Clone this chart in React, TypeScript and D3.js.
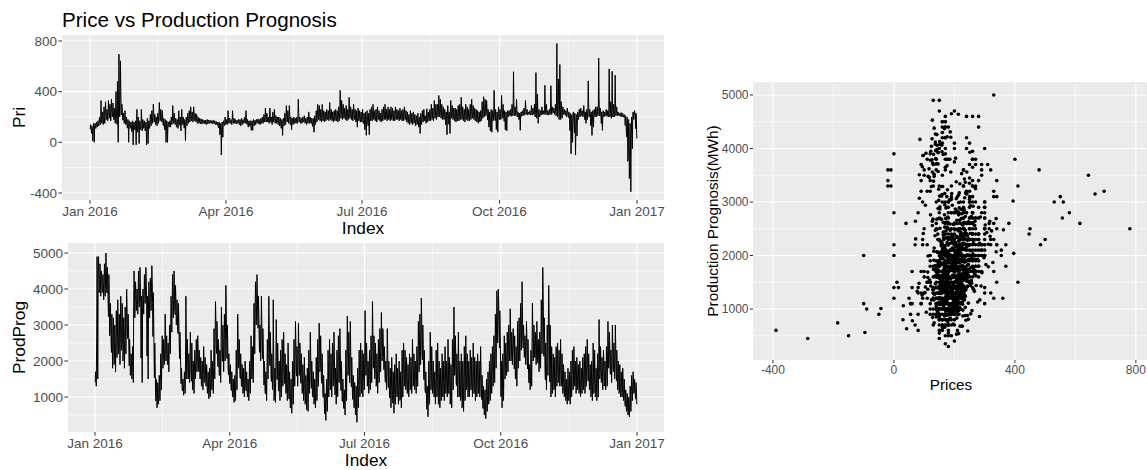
import React from "react";
import * as d3 from "d3";

// Spot price, four readings per day (2016-01-01 .. 2016-12-31): daily high, upper-mid, lower-mid, low
const priceHigh = [
  140,130,150,150,160,170,200,330,240,280,
  320,260,330,300,340,310,270,400,480,695,
  643,300,230,250,200,180,170,160,170,160,
  170,260,200,170,260,180,170,160,190,170,
  220,250,300,220,200,230,315,260,250,190,
  180,170,160,170,200,290,230,190,180,250,
  200,260,200,180,200,230,250,280,240,280,
  230,220,200,190,185,180,175,175,180,175,
  175,170,175,170,165,160,160,150,160,170,
  200,180,250,190,180,250,190,180,175,180,
  180,190,180,200,250,180,170,170,170,180,
  175,180,185,180,190,200,220,270,230,200,
  270,200,240,260,210,200,200,190,180,190,
  230,290,250,290,200,190,200,190,200,340,
  200,190,200,210,190,200,240,200,190,190,
  210,250,300,290,260,300,250,240,260,250,
  315,260,240,250,260,250,280,410,330,300,
  270,290,260,355,280,260,300,260,250,270,
  250,240,260,230,240,250,230,260,280,300,
  250,260,280,250,230,260,280,300,260,280,
  260,280,270,250,280,260,250,270,250,260,
  280,250,240,220,250,230,240,220,210,230,
  200,230,250,260,210,265,240,260,300,270,
  330,300,300,370,340,300,280,260,240,290,
  240,330,290,270,270,260,290,300,355,280,
  260,300,280,260,300,340,290,270,260,250,
  240,250,320,360,340,330,260,240,260,250,
  410,260,240,280,260,370,300,250,240,250,
  250,260,300,557,280,340,240,230,240,250,
  270,330,260,240,250,290,270,300,550,380,
  260,250,280,250,450,300,250,260,447,280,
  270,300,780,500,615,320,280,260,250,270,
  240,230,220,240,230,220,240,260,270,250,
  290,240,260,485,260,240,250,260,280,280,
  665,270,240,250,240,260,250,580,320,560,
  300,530,280,240,230,235,230,220,210,200,
  180,150,200,240,250,230,
];

const priceUpperMid = [
  118,96,127,133,142,151,167,213,188,204,
  237,214,256,231,262,241,203,268,187,338,
  394,241,193,187,163,146,142,131,128,137,
  126,168,142,143,176,152,138,122,137,148,
  183,206,233,186,171,193,247,214,197,158,
  142,131,146,152,176,218,191,163,153,193,
  163,203,168,146,172,193,212,227,204,228,
  197,188,177,171,167,166,162,158,164,163,
  164,159,163,157,154,146,137,121,133,152,
  174,163,196,172,162,193,171,164,163,162,
  161,168,166,178,194,157,152,148,146,159,
  161,167,168,163,172,178,193,214,197,176,
  213,174,201,207,183,173,168,156,141,163,
  188,226,203,218,162,168,177,172,176,236,
  177,172,182,184,168,176,197,176,164,148,
  178,208,243,233,213,238,207,206,221,212,
  247,216,203,211,218,207,226,284,254,246,
  228,232,221,267,233,217,243,212,193,222,
  207,202,208,178,172,203,168,216,227,243,
  212,213,231,212,197,217,232,242,217,231,
  218,231,223,212,232,221,212,227,211,218,
  232,207,197,181,202,187,196,177,176,178,
  158,186,207,217,182,213,206,217,241,222,
  262,243,253,288,268,242,232,217,182,236,
  183,261,236,222,217,216,232,243,272,226,
  212,243,227,217,242,268,237,222,213,202,
  203,212,258,283,277,266,207,186,193,212,
  286,206,188,232,221,268,247,198,187,227,
  232,236,254,312,247,267,223,206,224,231,
  243,268,238,231,234,253,246,252,317,263,
  233,234,251,236,298,257,233,241,304,256,
  246,256,396,327,338,262,251,238,227,241,
  213,154,146,203,148,167,213,232,241,228,
  252,204,224,312,227,177,203,232,243,246,
  362,237,188,227,226,233,227,318,258,323,
  253,307,246,226,218,219,216,206,172,128,
  61,-43,103,212,226,174,
];

const priceLowerMid = [
  104,71,86,124,137,146,158,186,163,177,
  209,193,228,206,236,217,178,224,142,283,
  302,216,174,166,144,112,127,116,84,121,
  97,132,113,126,138,133,117,94,106,129,
  162,178,197,163,152,174,211,189,171,132,
  97,84,133,139,158,184,167,144,131,168,
  134,176,147,112,153,172,188,201,183,203,
  181,172,164,158,156,157,153,151,155,157,
  157,152,158,149,147,136,113,72,104,142,
  157,152,172,163,153,171,161,156,158,153,
  147,156,159,164,172,141,143,127,124,146,
  152,159,157,154,162,166,178,186,181,163,
  186,158,181,178,166,157,149,137,112,148,
  166,193,178,187,137,156,163,161,164,197,
  164,161,171,167,156,163,174,163,149,124,
  161,186,214,206,188,207,186,189,202,193,
  216,194,183,193,196,186,201,236,219,221,
  206,203,202,229,208,196,214,188,163,198,
  186,183,182,147,128,178,131,194,201,214,
  193,191,207,193,181,196,208,213,196,207,
  196,208,198,193,207,202,192,204,193,196,
  208,186,176,163,178,166,174,156,161,152,
  127,166,186,196,168,188,189,196,213,198,
  229,214,228,246,233,212,208,196,137,211,
  142,228,211,197,191,194,204,213,228,201,
  188,214,201,196,214,231,211,198,189,178,
  182,193,226,244,246,236,176,153,151,193,
  241,172,151,208,202,232,221,167,152,214,
  221,222,233,263,229,234,212,178,214,222,
  229,244,226,226,224,234,233,226,262,214,
  217,225,236,228,257,236,224,231,263,243,
  233,234,291,256,271,228,236,227,214,226,
  196,93,83,176,77,122,197,217,226,214,
  231,178,202,252,208,132,168,216,222,228,
  276,218,148,213,218,219,214,256,226,262,
  228,256,228,217,212,211,208,198,133,42,
  -96,-186,31,196,214,107,
];

const priceLow = [
  90,10,0,110,120,130,140,150,140,150,
  180,170,190,170,200,180,150,180,0,200,
  220,180,150,140,120,0,110,90,-20,100,
  -20,80,-10,100,90,110,90,-20,-10,110,
  130,150,160,140,130,150,170,160,140,100,
  0,0,120,120,140,150,140,120,110,140,
  90,140,120,15,130,150,160,170,160,170,
  160,150,150,145,145,150,145,140,145,150,
  150,145,150,140,140,120,60,-100,40,130,
  140,140,150,150,140,150,150,145,150,140,
  130,140,150,150,150,120,130,95,95,130,
  140,150,145,140,150,150,160,160,160,150,
  160,140,160,150,150,140,130,110,55,130,
  140,160,150,150,100,140,150,150,150,160,
  150,150,160,150,140,150,150,150,130,80,
  140,160,180,170,160,170,160,170,180,170,
  180,170,160,170,170,160,170,190,180,190,
  180,170,180,190,180,170,180,160,120,170,
  160,160,150,100,55,150,60,170,170,180,
  170,160,180,170,160,170,180,180,170,180,
  170,180,170,170,180,180,170,180,170,170,
  180,160,150,140,150,140,150,130,140,120,
  70,140,160,170,150,160,170,170,180,170,
  190,180,200,200,190,180,180,170,60,180,
  70,190,180,170,160,170,170,180,180,170,
  160,180,170,170,180,190,180,170,160,150,
  160,170,190,200,210,200,120,90,80,170,
  190,100,80,180,180,190,190,100,90,200,
  210,205,210,210,210,200,200,95,205,210,
  215,220,215,220,215,215,220,200,190,150,
  200,215,220,220,220,215,215,220,220,230,
  220,210,200,180,180,190,220,215,200,210,
  180,-90,0,150,-100,50,180,200,210,200,
  210,150,180,200,190,55,120,200,200,210,
  210,200,95,200,210,205,200,200,190,200,
  200,210,210,210,205,200,200,190,80,-150,
  -285,-390,-50,180,200,30,
];

// Production prognosis (MWh), same four readings per day
const prodHigh = [
  1700,4900,4900,4700,4500,4400,4700,5000,4600,4400,
  3600,3300,3200,3000,3400,3700,3300,3800,3600,3200,
  3500,4000,3300,2600,2200,2400,4500,4200,4000,4500,
  4600,3800,4000,4400,4600,3800,4200,4300,4650,3900,
  2500,1500,1400,1600,2200,2700,2600,3300,2700,2500,
  3000,3800,4400,4500,4100,3700,3600,2800,1800,1500,
  1700,3800,2600,2200,2800,2500,2000,2300,2600,2700,
  2300,2100,2000,2400,2100,1900,1700,1800,2300,2000,
  2900,3650,3100,2600,2300,3500,3000,3300,4100,3000,
  2200,1900,1700,1500,1600,2300,3300,2600,2200,1900,
  1800,2000,1700,1500,2000,2700,2400,3600,4200,4400,
  3800,3000,3800,2900,2000,1700,2600,3800,2800,2200,
  3700,1800,3150,2500,2000,2300,2600,2800,2200,1900,
  2500,1700,1500,2000,2600,3100,2400,3050,2500,2200,
  1900,2100,1600,1800,2300,2800,2000,1700,1500,2100,
  2600,3050,2700,2200,1600,1100,1500,2300,2600,2200,
  2500,2800,1800,2300,2700,2900,2000,1500,1200,2300,
  3250,2800,3100,2100,1600,1400,1300,1800,2300,2500,
  2300,2200,3400,2500,2000,2300,2700,3650,2700,2500,
  2200,2600,2900,3350,2900,2400,2000,2900,2000,1800,
  2100,1700,1900,2200,1800,2000,1700,2300,2500,2300,
  2100,1900,2200,2100,2600,2200,2000,2400,3100,3300,
  3750,3000,2300,1700,1300,2000,2800,2400,2000,1700,
  2300,2500,2000,1800,2200,2000,2400,2000,2600,2100,
  1900,2600,3500,2700,2200,2800,2000,2200,2000,2400,
  2700,2200,2000,2300,2100,2500,2100,2000,2200,2000,
  2400,1600,1300,1200,1500,1700,2000,2200,2400,2700,
  3300,3950,4000,3400,2000,2200,2700,2500,2800,3000,
  3450,2800,2900,2700,2400,3100,3200,3600,4200,3000,
  2700,3100,2600,1900,2300,3600,3000,2800,3100,2600,
  2800,3700,4600,3200,2500,3000,4100,3000,2400,2200,
  2100,2400,2500,2300,2600,2200,1900,1700,1500,1800,
  1700,2000,2300,2400,2000,2100,1900,2000,1800,2100,
  2200,2400,2600,2200,1900,2000,2500,2300,1800,2200,
  3150,2400,2100,2300,2000,2400,3100,2800,2300,3000,
  2500,3000,2300,2000,1900,1700,1800,1500,1200,1100,
  1000,1300,1600,1700,1500,1400,
];

const prodUpperMid = [
  1540,3870,4530,4380,4260,4130,4370,4640,4210,3820,
  3170,2760,2730,2510,2920,3160,2810,3270,3040,2690,
  3020,3560,2940,2230,1940,2060,3980,3890,3730,4120,
  4180,2950,3720,4060,4220,2870,3810,3950,4270,3240,
  1960,1180,1170,1330,1810,2370,2310,2810,2380,2190,
  2680,3390,3930,4080,3680,3340,3160,2390,1560,1320,
  1460,2870,2160,1890,2330,1980,1640,1960,2240,2330,
  1970,1780,1680,1990,1770,1580,1410,1470,1860,1640,
  2330,3140,2620,2180,1940,2880,2470,2760,3480,2510,
  1870,1610,1430,1240,1310,1860,2690,2180,1830,1580,
  1470,1680,1420,1260,1630,2210,1990,3030,3710,3940,
  3290,2610,3160,2440,1640,1380,2140,3130,2310,1790,
  2460,1430,2480,1970,1560,1780,2070,2260,1740,1480,
  1880,1290,1110,1530,2070,2530,1960,2460,2040,1760,
  1480,1580,1210,1290,1810,2240,1590,1340,1160,1610,
  2080,2490,2210,1740,1270,790,1130,1780,2040,1710,
  2010,2270,1410,1790,2160,2340,1570,1170,910,1730,
  2580,2230,2440,1660,1230,1030,880,1360,1780,1930,
  1760,1790,2660,2010,1640,1840,2180,2890,2230,2010,
  1760,2110,2410,2790,2580,2030,1670,2290,1590,1360,
  1620,1230,1460,1710,1390,1560,1280,1770,2010,1860,
  1690,1540,1790,1690,2060,1790,1630,1960,2530,2720,
  3110,2470,1860,1370,960,1520,2170,1880,1610,1330,
  1780,1820,1480,1430,1720,1560,1880,1610,1990,1580,
  1430,2030,2730,2180,1720,2070,1560,1610,1440,1810,
  2110,1730,1610,1870,1670,1930,1630,1590,1780,1620,
  1870,1240,970,860,1130,1330,1570,1760,1960,2160,
  2720,3380,3560,2830,1470,1640,2190,2130,2340,2590,
  2860,2430,2610,2210,1930,2560,2690,3060,3530,2620,
  2370,2640,2140,1610,1880,2930,2630,2410,2640,2230,
  2390,3080,3930,2610,1960,2410,3430,2170,1830,1780,
  1630,1940,2040,1870,2070,1760,1520,1360,1190,1410,
  1330,1590,1840,1970,1630,1740,1560,1600,1520,1730,
  1760,1960,2160,1790,1530,1570,1930,1780,1420,1730,
  2480,1990,1730,1890,1660,1940,2570,2360,1930,2460,
  2090,2430,1830,1630,1530,1410,1420,1210,960,840,
  780,1010,1310,1450,1290,1160,
];

const prodLowerMid = [
  1410,2640,4170,4040,4080,3920,4060,4310,3890,3230,
  2830,2240,2310,2080,2470,2660,2330,2780,2490,2230,
  2570,3170,2620,1870,1710,1690,3560,3620,3510,3780,
  3870,2080,3480,3790,3960,2140,3460,3660,3910,2680,
  1530,890,960,1080,1440,2060,2080,2330,2110,1910,
  2410,3070,3520,3710,3290,3040,2760,2060,1370,1170,
  1270,2030,1730,1590,1870,1440,1310,1690,1920,2030,
  1710,1510,1410,1630,1510,1310,1130,1210,1480,1330,
  1830,2690,2210,1840,1630,2370,1990,2310,2940,2070,
  1620,1370,1180,1010,1080,1470,2140,1850,1510,1290,
  1190,1410,1170,1060,1340,1780,1660,2560,3290,3570,
  2910,2240,2680,2060,1330,1090,1760,2590,1870,1430,
  1580,1090,1890,1480,1160,1290,1580,1810,1370,1120,
  1370,940,760,1070,1620,2040,1580,1940,1690,1380,
  1130,1090,880,870,1380,1730,1240,1010,890,1170,
  1590,2010,1790,1380,990,530,830,1310,1510,1270,
  1580,1830,1060,1320,1720,1860,1180,880,680,1240,
  2030,1760,1930,1280,930,720,540,980,1330,1440,
  1290,1460,2030,1610,1360,1490,1740,2260,1820,1620,
  1380,1720,2040,2340,2320,1760,1410,1760,1260,970,
  1180,830,1070,1330,1060,1170,950,1310,1620,1480,
  1360,1230,1470,1380,1640,1470,1340,1610,2090,2270,
  2640,2030,1480,1120,660,1080,1590,1400,1260,1030,
  1310,1190,980,1110,1330,1180,1430,1270,1470,1090,
  980,1530,2090,1730,1310,1430,1190,1030,870,1220,
  1570,1310,1270,1480,1290,1420,1180,1260,1380,1280,
  1410,930,680,590,810,1030,1180,1380,1590,1720,
  2190,2890,3110,2360,1010,1190,1780,1860,1990,2270,
  2380,2140,2390,1780,1560,2110,2330,2620,2990,2360,
  2110,2290,1780,1390,1570,2410,2330,2130,2280,1940,
  2060,2590,3370,2130,1480,1910,2860,1420,1370,1430,
  1270,1560,1680,1530,1620,1370,1240,1090,970,1130,
  1040,1260,1480,1560,1330,1430,1300,1260,1290,1440,
  1390,1560,1780,1440,1210,1170,1420,1290,1120,1300,
  1930,1660,1420,1570,1420,1590,2110,1990,1630,1990,
  1740,1930,1450,1330,1220,1190,1130,980,740,630,
  560,740,1060,1240,1120,940,
];

const prodLow = [
  1300,1500,3900,3800,3900,3700,3800,4000,3600,2700,
  2500,1800,1900,1700,2100,2200,1900,2300,2000,1800,
  2200,2800,2300,1600,1500,1400,3200,3400,3300,3500,
  3600,1400,3300,3600,3700,1500,3200,3400,3600,2200,
  1200,700,800,900,1200,1800,1900,2000,1900,1700,
  2200,2800,3200,3400,3000,2800,2500,1800,1200,1050,
  1100,1500,1500,1400,1600,1200,1100,1500,1700,1800,
  1500,1300,1200,1400,1300,1100,950,1000,1200,1100,
  1500,2400,1900,1600,1400,2000,1700,2000,2600,1800,
  1400,1200,1000,850,900,1200,1800,1600,1300,1100,
  1000,1200,1000,900,1100,1500,1400,2200,3000,3300,
  2600,2000,2300,1800,1100,900,1500,2200,1600,1200,
  900,850,1500,1200,900,1000,1300,1500,1100,900,
  1000,700,550,800,1300,1700,1300,1600,1400,1100,
  900,800,650,600,1100,1400,1000,800,700,900,
  1300,1700,1500,1100,800,350,600,1000,1200,1000,
  1300,1500,800,1000,1400,1500,900,700,500,900,
  1600,1400,1500,1000,700,500,300,700,1000,1100,
  1000,1200,1600,1300,1100,1200,1400,1800,1500,1300,
  1100,1400,1700,2000,2100,1500,1200,1400,1000,700,
  900,550,800,1000,800,900,700,1000,1300,1200,
  1100,1000,1200,1100,1300,1200,1100,1300,1700,1900,
  2200,1700,1200,900,450,800,1200,1100,1000,800,
  1000,800,700,900,1000,900,1100,1000,1100,800,
  700,1200,1600,1400,1000,1000,900,700,600,900,
  1200,1000,1000,1200,1000,1100,900,1000,1100,1000,
  1100,700,500,400,600,800,900,1100,1300,1400,
  1800,2500,2800,2000,700,900,1500,1600,1700,2000,
  2000,1900,2200,1500,1300,1800,2000,2300,2600,2100,
  1900,2000,1500,1200,1300,2000,2100,1900,2000,1700,
  1800,2200,3000,1800,1200,1600,2500,1000,1100,1200,
  1000,1300,1400,1300,1300,1100,1000,900,800,900,
  800,1000,1200,1300,1100,1200,1100,1000,1100,1200,
  1100,1300,1500,1200,1000,900,1100,1000,900,1000,
  1500,1400,1200,1300,1200,1300,1800,1700,1400,1700,
  1500,1600,1200,1100,1000,1000,900,800,600,500,
  450,600,900,1100,1000,800,
];

const dateBreaks = ["2016-01-01", "2016-04-01", "2016-07-01", "2016-10-01", "2017-01-01"];
const priceBreaks = [-400, 0, 400, 800];
const priceMinorBreaks = [-200, 200, 600];
const prodBreaks = [1000, 2000, 3000, 4000, 5000];
const prodMinorBreaks = [500, 1500, 2500, 3500, 4500];
const scatterPriceBreaks = [-400, 0, 400, 800];
const scatterPriceMinor = [-200, 200, 600];

const FONT = "'Liberation Sans', Arial, Helvetica, sans-serif";
const PANEL_BG = "#EBEBEB";
const TICK_TEXT = "#4D4D4D";
const TICK_LINE = "#333333";

const DAY_MS = 864e5;
const start = Date.UTC(2016, 0, 1);
const end = Date.UTC(2017, 0, 1);
const toDate = (s: string) => new Date(s + "T00:00:00Z");

type Obs = { t: Date; price: number; prod: number };

// Readings in time order within each day: lower-mid (night), high, upper-mid, low (evening)
const readings: [number[], number[], number][] = [
  [priceLowerMid, prodLowerMid, 0.125],
  [priceHigh, prodHigh, 0.375],
  [priceUpperMid, prodUpperMid, 0.625],
  [priceLow, prodLow, 0.875],
];

const observations: Obs[] = priceHigh.flatMap((_, d) =>
  readings.map(([pr, pd, frac]) => ({
    t: new Date(start + (d + frac) * DAY_MS),
    price: pr[d],
    prod: pd[d],
  }))
);

const majorDates = dateBreaks.map(toDate);
const minorDates = majorDates.slice(1).map((d, i) => new Date((d.getTime() + majorDates[i].getTime()) / 2));
const fmtDate = d3.utcFormat("%b %Y");

type Box = { left: number; right: number; top: number; bottom: number };

function Grid({ box, xs, xMinor, ys, yMinor }: { box: Box; xs: number[]; xMinor: number[]; ys: number[]; yMinor: number[] }) {
  return (
    <g>
      <rect x={box.left} y={box.top} width={box.right - box.left} height={box.bottom - box.top} fill={PANEL_BG} />
      {yMinor.map((y, i) => (
        <line key={"ym" + i} x1={box.left} x2={box.right} y1={y} y2={y} stroke="#fff" strokeWidth={0.55} />
      ))}
      {xMinor.map((x, i) => (
        <line key={"xm" + i} x1={x} x2={x} y1={box.top} y2={box.bottom} stroke="#fff" strokeWidth={0.55} />
      ))}
      {ys.map((y, i) => (
        <line key={"y" + i} x1={box.left} x2={box.right} y1={y} y2={y} stroke="#fff" strokeWidth={1.1} />
      ))}
      {xs.map((x, i) => (
        <line key={"x" + i} x1={x} x2={x} y1={box.top} y2={box.bottom} stroke="#fff" strokeWidth={1.1} />
      ))}
    </g>
  );
}

function SeriesPanel(props: {
  id: string;
  box: Box;
  dataX0: number;
  dataX1: number;
  domain: [number, number];
  breaks: number[];
  minor: number[];
  value: (o: Obs) => number;
  yTitle: string;
  tickBaseline: number;
  titleBaseline: number;
  titleX: number;
}) {
  const { id, box, domain, breaks, minor, value } = props;
  const x = d3.scaleUtc().domain([new Date(start), new Date(end)]).range([props.dataX0, props.dataX1]);
  const y = d3.scaleLinear().domain(domain).range([box.bottom, box.top]);
  const path = d3
    .line<Obs>()
    .x((o) => x(o.t))
    .y((o) => y(value(o)))(observations) as string;
  const fs = 13.5;
  return (
    <g>
      <defs>
        <clipPath id={id}>
          <rect x={box.left} y={box.top} width={box.right - box.left} height={box.bottom - box.top} />
        </clipPath>
      </defs>
      <Grid
        box={box}
        xs={majorDates.map((d) => x(d))}
        xMinor={minorDates.map((d) => x(d))}
        ys={breaks.map((v) => y(v))}
        yMinor={minor.map((v) => y(v))}
      />
      <path d={path} fill="none" stroke="#000" strokeWidth={1} strokeLinejoin="round" clipPath={`url(#${id})`} />
      {breaks.map((v) => (
        <g key={"yt" + v}>
          <line x1={box.left - 3.7} x2={box.left} y1={y(v)} y2={y(v)} stroke={TICK_LINE} strokeWidth={1} />
          <text x={box.left - 5} y={y(v)} dy="0.35em" textAnchor="end" fontSize={fs} fill={TICK_TEXT}>
            {v}
          </text>
        </g>
      ))}
      {majorDates.map((d, i) => (
        <g key={"xt" + i}>
          <line x1={x(d)} x2={x(d)} y1={box.bottom} y2={box.bottom + 3.7} stroke={TICK_LINE} strokeWidth={1} />
          <text x={x(d)} y={props.tickBaseline} textAnchor="middle" fontSize={fs} fill={TICK_TEXT}>
            {fmtDate(d)}
          </text>
        </g>
      ))}
      <text x={props.titleX} y={props.titleBaseline} textAnchor="middle" fontSize={17.3} fill="#000">
        Index
      </text>
      <text
        transform={`translate(25,${(box.top + box.bottom) / 2}) rotate(-90)`}
        textAnchor="middle"
        fontSize={17.3}
        fill="#000"
      >
        {props.yTitle}
      </text>
    </g>
  );
}

function ScatterPanel() {
  const box: Box = { left: 753, right: 1151, top: 82, bottom: 360 };
  const x = d3.scaleLinear().domain([-466, 850]).range([box.left, box.right]);
  const y = d3.scaleLinear().domain([47, 5243]).range([box.bottom, box.top]);
  const fs = 12;
  return (
    <g>
      <Grid
        box={box}
        xs={scatterPriceBreaks.map((v) => x(v))}
        xMinor={scatterPriceMinor.map((v) => x(v))}
        ys={prodBreaks.map((v) => y(v))}
        yMinor={prodMinorBreaks.map((v) => y(v))}
      />
      {observations.map((o, i) => (
        <circle key={i} cx={x(o.price)} cy={y(o.prod)} r={1.8} fill="#000" />
      ))}
      {prodBreaks.map((v) => (
        <g key={"sy" + v}>
          <line x1={box.left - 3.2} x2={box.left} y1={y(v)} y2={y(v)} stroke={TICK_LINE} strokeWidth={1} />
          <text x={box.left - 4.5} y={y(v)} dy="0.35em" textAnchor="end" fontSize={fs} fill={TICK_TEXT}>
            {v}
          </text>
        </g>
      ))}
      {scatterPriceBreaks.map((v) => (
        <g key={"sx" + v}>
          <line x1={x(v)} x2={x(v)} y1={box.bottom} y2={box.bottom + 3.2} stroke={TICK_LINE} strokeWidth={1} />
          <text x={x(v)} y={373.5} textAnchor="middle" fontSize={fs} fill={TICK_TEXT}>
            {v}
          </text>
        </g>
      ))}
      <text x={951} y={390} textAnchor="middle" fontSize={15.3} fill="#000">
        Prices
      </text>
      <text transform={`translate(718,${(box.top + box.bottom) / 2}) rotate(-90)`} textAnchor="middle" fontSize={15.3} fill="#000">
        Production Prognosis(MWh)
      </text>
    </g>
  );
}

export default function App() {
  return (
    <svg
      width={1147}
      height={470}
      viewBox="0 0 1147 470"
      style={{ position: "absolute", left: 0, top: 0, background: "#fff" }}
      fontFamily={FONT}
    >
      <rect width={1147} height={470} fill="#fff" />
      <text x={62} y={27} fontSize={20.6} fill="#000">
        Price vs Production Prognosis
      </text>
      <SeriesPanel
        id="clip-price"
        box={{ left: 62, right: 664, top: 35, bottom: 200 }}
        dataX0={90}
        dataX1={637}
        domain={[-455, 847]}
        breaks={priceBreaks}
        minor={priceMinorBreaks}
        value={(o) => o.price}
        yTitle="Pri"
        tickBaseline={216}
        titleBaseline={234}
        titleX={363}
      />
      <SeriesPanel
        id="clip-prod"
        box={{ left: 68, right: 664, top: 243, bottom: 432 }}
        dataX0={95}
        dataX1={637}
        domain={[28, 5278]}
        breaks={prodBreaks}
        minor={prodMinorBreaks}
        value={(o) => o.prod}
        yTitle="ProdProg"
        tickBaseline={448}
        titleBaseline={466}
        titleX={366}
      />
      <ScatterPanel />
    </svg>
  );
}
